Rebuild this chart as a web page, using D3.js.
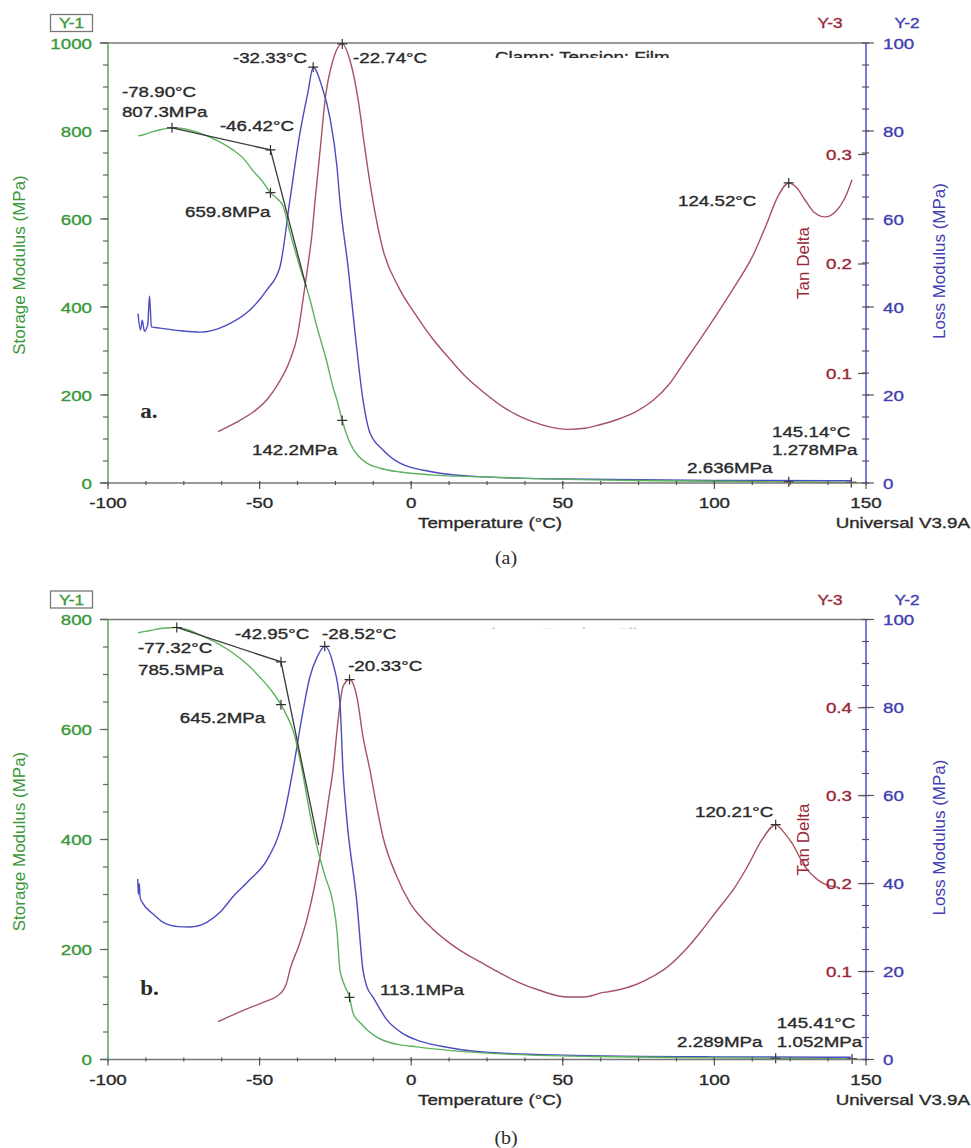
<!DOCTYPE html>
<html>
<head>
<meta charset="utf-8">
<script src="https://cdn.jsdelivr.net/npm/d3@7"></script>
<style>
  body { margin: 0; background: #fff; }
</style>
</head>
<body>
<svg id="chart" width="971" height="1148"></svg>
<script>
// ---------- data, panel (a) : [temperature °C, value]
const storageA = [[-90.1, 789], [-88, 792], [-86, 797], [-82, 804], [-78.9, 807.3], [-75, 805], [-69.7, 795],
  [-64, 778], [-58.8, 757], [-55, 735], [-52.2, 710], [-49, 685], [-46.42, 659.8], [-44, 645], [-42.3, 630],
  [-40, 570], [-36.7, 491], [-33.5, 420], [-31.1, 355], [-28, 280], [-25.8, 218], [-24.5, 189], [-22.74, 142.2],
  [-20.2, 91], [-17.5, 62], [-14.6, 45], [-10, 33], [-3.7, 25], [0, 22], [7.2, 18], [23.7, 14], [40, 10],
  [60, 7], [80, 5], [100, 4], [124.52, 2.636], [145.14, 1.278], [147, 1.2]];
const lossA = [[-90.1, 38.5], [-89.3, 34.8], [-88.7, 37], [-88, 34.5], [-86.9, 36], [-86.3, 42.5], [-85.7, 35.5],
  [-82.9, 35.2], [-76, 34.6], [-69.7, 34.3], [-60.8, 35.9], [-53.2, 39.3], [-47.6, 43.9], [-43.3, 49.1],
  [-40, 64.3], [-36.7, 79.5], [-34, 89], [-32.33, 94.5], [-29.4, 90], [-26.8, 83], [-24.5, 72], [-23.5, 64],
  [-20.8, 49], [-18.5, 34], [-15.9, 18.9], [-13.6, 11.4], [-9.3, 7.5], [-3.7, 4.5], [7.2, 2.5], [23.7, 1.4],
  [50, 0.9], [100, 0.6], [145, 0.5]];
const tanA = [[-63.7, 0.047], [-58, 0.055], [-52, 0.065], [-47.6, 0.076], [-44, 0.09], [-40, 0.112], [-37.5, 0.135],
  [-35.7, 0.167], [-34, 0.2], [-32.7, 0.228], [-31.7, 0.258], [-30, 0.305], [-28.4, 0.35], [-25.8, 0.386],
  [-22.74, 0.401], [-20.2, 0.386], [-17.5, 0.35], [-15.5, 0.31], [-13.6, 0.274], [-9.3, 0.213], [-4, 0.178],
  [1.9, 0.152], [7, 0.132], [12.8, 0.113], [18, 0.097], [24.3, 0.082], [30, 0.07], [35, 0.062], [40, 0.056],
  [46, 0.051], [51.7, 0.049], [57.3, 0.05], [62, 0.053], [68, 0.058], [74, 0.065], [80, 0.076], [85, 0.09],
  [90, 0.11], [95, 0.13], [101, 0.155], [107, 0.181], [112.4, 0.206], [117, 0.235], [121, 0.262],
  [124.52, 0.274], [127, 0.27], [130, 0.258], [133, 0.247], [136.5, 0.243], [140, 0.248], [143, 0.26],
  [145.4, 0.277]];
const tangentA = [[-78.9, 807.3], [-46.42, 757], [-34.6, 445]];
// crosses: [T, value, axis]
const crossesA = [[-78.9, 807.3, "E"], [-46.42, 757, "E"], [-46.42, 659.8, "E"], [-22.74, 142.2, "E"],
  [-32.33, 94.5, "L"], [-22.74, 0.401, "tan"], [124.52, 0.274, "tan"], [124.52, 2.636, "E"], [145.14, 1.278, "E"]];
// notes: [text, T, storage value] (left edge, baseline)
const notesA = [["-78.90°C", -95.4, 877], ["807.3MPa", -95.4, 832], ["-46.42°C", -63.1, 800],
  ["-32.33°C", -58.8, 955], ["-22.74°C", -19.2, 955], ["659.8MPa", -74.6, 605], ["124.52°C", 88, 630],
  ["142.2MPa", -52.5, 64], ["145.14°C", 119, 105], ["1.278MPa", 119, 64], ["2.636MPa", 91, 23]];

// ---------- data, panel (b)
const storageB = [[-90.1, 776], [-86, 780], [-82, 784], [-77.32, 785.5], [-73, 780], [-69.7, 772], [-64, 757],
  [-58.8, 739], [-54, 718], [-49.9, 695], [-46, 670], [-42.95, 645.2], [-41, 625], [-39, 599], [-36, 527],
  [-33.5, 450], [-31.1, 387], [-28.5, 335], [-25.8, 285], [-24.5, 235], [-23.5, 163], [-22, 135],
  [-20.33, 113.1], [-19.2, 84.5], [-16.5, 65], [-14.6, 54], [-12, 43], [-9.3, 35], [-4, 27], [1.9, 23],
  [10, 18], [23.7, 12], [40, 8], [60, 5.5], [80, 4], [100, 3], [120.21, 2.289], [145.41, 1.052], [147, 1.0]];
const lossB = [[-90.2, 41], [-90, 37.5], [-89.7, 40], [-89.4, 36.8], [-88.5, 35.5], [-85, 33], [-81.9, 31.2],
  [-77, 30.2], [-73, 30.1], [-67.3, 31.2], [-63, 33.5], [-58.8, 37], [-53, 41], [-47.6, 45.3], [-42.3, 54.4],
  [-39, 65.8], [-36, 78], [-33.4, 87], [-31, 91.5], [-28.52, 93.9], [-25.8, 90], [-23.5, 81], [-22.5, 65.8],
  [-21.2, 54.4], [-17.9, 35.6], [-15.9, 20.3], [-14.6, 16.5], [-12.6, 14.2], [-8, 9], [-3, 6], [1.9, 4.4],
  [10, 3], [23.7, 1.7], [50, 1], [100, 0.6], [145, 0.5]];
const tanB = [[-63.7, 0.043], [-58, 0.052], [-53.2, 0.059], [-48, 0.066], [-44.3, 0.072], [-42, 0.08],
  [-41, 0.088], [-40, 0.102], [-37, 0.13], [-34.4, 0.159], [-32, 0.195], [-30.1, 0.23], [-28.5, 0.265],
  [-27.4, 0.292], [-25.8, 0.329], [-24.1, 0.386], [-22.5, 0.424], [-20.33, 0.432], [-17.9, 0.412],
  [-15.9, 0.367], [-13.6, 0.329], [-11.5, 0.29], [-9.3, 0.253], [-5, 0.21], [-0.4, 0.178], [6, 0.152],
  [12.8, 0.132], [18, 0.12], [24.3, 0.108], [30, 0.097], [35.2, 0.088], [42, 0.079], [51.7, 0.071], [57, 0.071],
  [60, 0.073], [62.9, 0.076], [65, 0.077], [68.2, 0.079], [74, 0.085], [79.4, 0.094], [83.7, 0.103],
  [90, 0.123], [95.9, 0.147], [101, 0.17], [106.8, 0.196], [111, 0.22], [115.7, 0.25], [120.21, 0.267],
  [123, 0.258], [125.6, 0.246], [129.9, 0.219], [134.2, 0.204], [137.5, 0.198], [141, 0.196]];
const tangentB = [[-77.32, 785.5], [-42.95, 723], [-30.5, 390]];
const crossesB = [[-77.32, 785.5, "E"], [-42.95, 723, "E"], [-42.95, 645.2, "E"], [-20.33, 113.1, "E"],
  [-28.52, 93.9, "L"], [-20.33, 0.432, "tan"], [120.21, 0.267, "tan"], [120.21, 2.289, "E"], [145.41, 1.052, "E"]];
const notesB = [["-77.32°C", -90.1, 739], ["785.5MPa", -90.1, 699], ["645.2MPa", -76.3, 612],
  ["-42.95°C", -58.1, 765], ["-28.52°C", -29.4, 765], ["-20.33°C", -20.8, 706], ["120.21°C", 93.6, 441],
  ["113.1MPa", -10.3, 117], ["2.289MPa", 87.7, 23], ["145.41°C", 120.6, 57], ["1.052MPa", 120.6, 23]];

// ---------- shared axis ticks
const xTicks = [-100, -50, 0, 50, 100, 150];
const xMinor = d3.range(-100, 150.1, 12.5);
const lossTicks = [0, 20, 40, 60, 80, 100];
const lossMinor = d3.range(0, 100.1, 5);
const tanTicksA = [0.1, 0.2, 0.3];
const tanTicksB = [0.1, 0.2, 0.3, 0.4];

const FONT = "'Liberation Sans', Arial, sans-serif";
const SERIF = "'Liberation Serif', 'Times New Roman', serif";
const SX = 1.25; // the original figure is stretched horizontally
const GREEN = "#3a983a", GREEN_LINE = "#5db35d", BLUE = "#4040b0", RED = "#992838", RED_LINE = "#a65263";

const svg = d3.select("#chart");
svg.append("rect").attr("width", 971).attr("height", 1148).attr("fill", "#fff");

const x = d3.scaleLinear().domain([-100, 150]).range([108, 866]);

function label(g, s, px, py, o = {}) {
  const c = o.color || "#2a2a2a";
  return g.append("text")
    .attr("transform", `translate(${px},${py}) scale(${o.sx || SX},1)`)
    .attr("text-anchor", o.anchor || "start")
    .attr("font-family", o.font || FONT)
    .attr("font-size", o.size || 15)
    .attr("font-weight", o.weight || "normal")
    .attr("fill", c)
    .attr("stroke", o.font ? "none" : c)
    .attr("stroke-width", 0.35)
    .text(s);
}

function vlabel(g, s, px, py, color) {
  g.append("text")
    .attr("transform", `translate(${px},${py}) rotate(-90)`)
    .attr("text-anchor", "middle")
    .attr("font-family", FONT)
    .attr("font-size", 17)
    .attr("fill", color)
    .text(s);
}

function drawPanel(p) {
  const g = svg.append("g");
  const yE = d3.scaleLinear().domain([0, p.eMax]).range([p.bottom, p.top]);
  const yL = d3.scaleLinear().domain([0, 100]).range([p.bottom, p.top]);
  const yT = d3.scaleLinear().domain([0, p.tanMax]).range([p.bottom, p.top]);
  const yOf = { E: yE, L: yL, tan: yT };

  // top frame line
  g.append("line").attr("x1", 100).attr("x2", x(150)).attr("y1", p.top).attr("y2", p.top)
    .attr("stroke", "#7a7a7a").attr("stroke-width", 1.5);

  // clamp text, cut off at its lower part
  const clipId = "clip-" + p.name;
  svg.append("clipPath").attr("id", clipId).append("rect")
    .attr("x", 0).attr("y", p.top + 2).attr("width", 971).attr("height", p.clampClip);
  const clampG = g.append("g").attr("clip-path", `url(#${clipId})`);
  label(clampG, "Clamp:  Tension: Film", p.clampX, p.top + 19, { color: p.clampColor });

  // curves
  const lineOf = y => d3.line().x(d => x(d[0])).y(d => y(d[1])).curve(d3.curveMonotoneX);
  g.append("path").datum(p.tan).attr("d", lineOf(yT))
    .attr("fill", "none").attr("stroke", RED_LINE).attr("stroke-width", 1.4);
  g.append("path").datum(p.loss).attr("d", lineOf(yL))
    .attr("fill", "none").attr("stroke", "#4b4bc2").attr("stroke-width", 1.4);
  g.append("path").datum(p.storage).attr("d", lineOf(yE))
    .attr("fill", "none").attr("stroke", GREEN_LINE).attr("stroke-width", 1.4);
  g.append("path").datum(p.tangent).attr("d", d3.line().x(d => x(d[0])).y(d => yE(d[1])))
    .attr("fill", "none").attr("stroke", "#3a3a3a").attr("stroke-width", 1.3);

  // crosses
  g.selectAll("path.cross").data(p.crosses).join("path").attr("class", "cross")
    .attr("d", d => `M${x(d[0]) - 5},${yOf[d[2]](d[1])}h10M${x(d[0])},${yOf[d[2]](d[1]) - 5}v10`)
    .attr("stroke", "#333").attr("stroke-width", 1.2);

  // bottom axis
  const xAxis = g.append("g").attr("transform", `translate(0,${p.bottom})`);
  xAxis.append("line").attr("x1", 100).attr("x2", x(150)).attr("stroke", "#777").attr("stroke-width", 1.5);
  xAxis.selectAll("line.minor").data(xMinor).join("line").attr("class", "minor")
    .attr("x1", d => x(d)).attr("x2", d => x(d)).attr("y1", -2).attr("y2", 2)
    .attr("stroke", "#555").attr("stroke-width", 1.2);
  xAxis.selectAll("line.major").data(xTicks).join("line").attr("class", "major")
    .attr("x1", d => x(d)).attr("x2", d => x(d)).attr("y1", -2).attr("y2", 6)
    .attr("stroke", "#555").attr("stroke-width", 1.2);
  xTicks.forEach(t => label(xAxis, String(t), x(t), 25, { anchor: "middle" }));
  label(g, "Temperature (°C)", 490, p.bottom + 45, { anchor: "middle" });
  label(g, "Universal V3.9A", 970, p.bottom + 45, { anchor: "end" });

  // left axis (storage)
  const left = g.append("g").attr("transform", `translate(${x(-100)},0)`);
  left.append("line").attr("y1", p.top).attr("y2", p.bottom).attr("stroke", GREEN_LINE).attr("stroke-width", 1.6);
  left.selectAll("line.minor").data(p.eMinor).join("line").attr("class", "minor")
    .attr("x1", -5).attr("x2", 0).attr("y1", d => yE(d)).attr("y2", d => yE(d))
    .attr("stroke", "#666").attr("stroke-width", 1.2);
  left.selectAll("line.major").data(p.eMajor).join("line").attr("class", "major")
    .attr("x1", -8).attr("x2", 0).attr("y1", d => yE(d)).attr("y2", d => yE(d))
    .attr("stroke", "#666").attr("stroke-width", 1.2);
  p.eMajor.forEach(v => label(left, String(v), -16, yE(v) + 5.5, { anchor: "end", color: GREEN }));
  vlabel(g, "Storage Modulus (MPa)", 25, (p.top + p.bottom) / 2 + 2, GREEN);

  // right axes (loss + tan delta)
  const right = g.append("g").attr("transform", `translate(${x(150)},0)`);
  right.append("line").attr("y1", p.top).attr("y2", p.bottom).attr("stroke", "#5a5ad0").attr("stroke-width", 1.6);
  right.selectAll("line.minor").data(lossMinor).join("line").attr("class", "minor")
    .attr("x1", -4).attr("x2", 3).attr("y1", d => yL(d)).attr("y2", d => yL(d))
    .attr("stroke", "#555").attr("stroke-width", 1.2);
  right.selectAll("line.major").data(lossTicks).join("line").attr("class", "major")
    .attr("x1", 0).attr("x2", 8).attr("y1", d => yL(d)).attr("y2", d => yL(d))
    .attr("stroke", "#555").attr("stroke-width", 1.2);
  right.selectAll("line.tan").data(p.tanTicks).join("line").attr("class", "tan")
    .attr("x1", -8).attr("x2", 0).attr("y1", d => yT(d)).attr("y2", d => yT(d))
    .attr("stroke", "#555").attr("stroke-width", 1.2);
  lossTicks.forEach(v => label(right, String(v), 17, yL(v) + 5.5, { color: BLUE }));
  p.tanTicks.forEach(v => label(right, d3.format(".1f")(v), -14, yT(v) + 5.5, { anchor: "end", color: RED }));
  vlabel(g, "Tan Delta", 809, (p.top + p.bottom) / 2, RED);
  vlabel(g, "Loss Modulus (MPa)", 945, (p.top + p.bottom) / 2 - 2, BLUE);

  // axis captions
  g.append("rect").attr("x", 50.5).attr("y", p.top - 28.5).attr("width", 42).attr("height", 17)
    .attr("fill", "none").attr("stroke", "#777").attr("stroke-width", 1.3);
  label(g, "Y-1", 71.5, p.top - 15, { anchor: "middle", color: GREEN, sx: 1.15 });
  label(g, "Y-3", 830, p.top - 15, { anchor: "middle", color: RED, sx: 1.15 });
  label(g, "Y-2", 907, p.top - 15, { anchor: "middle", color: BLUE, sx: 1.15 });

  // annotations
  p.notes.forEach(n => label(g, n[0], x(n[1]), yE(n[2])));

  // panel tag and caption
  label(g, p.tag, x(p.tagAt[0]), yE(p.tagAt[1]), { font: SERIF, size: 21, weight: "bold", sx: 1.1 });
  label(g, p.caption, 506, p.captionY, { font: SERIF, size: 19, anchor: "middle", sx: 1.05 });
}

const panels = [
  { name: "a", top: 43, bottom: 483, eMax: 1000, eMajor: d3.range(0, 1001, 200), eMinor: d3.range(0, 1001, 50),
    tanMax: 0.4018, tanTicks: tanTicksA, storage: storageA, loss: lossA, tan: tanA, tangent: tangentA,
    crosses: crossesA, notes: notesA, tag: "a.", tagAt: [-89.4, 148], caption: "(a)", captionY: 564,
    clampX: 495, clampClip: 13, clampColor: "#2a2a2a" },
  { name: "b", top: 619.5, bottom: 1059.5, eMax: 800, eMajor: d3.range(0, 801, 200), eMinor: d3.range(0, 801, 50),
    tanMax: 0.5003, tanTicks: tanTicksB, storage: storageB, loss: lossB, tan: tanB, tangent: tangentB,
    crosses: crossesB, notes: notesB, tag: "b.", tagAt: [-89.4, 117], caption: "(b)", captionY: 1144,
    clampX: 478, clampClip: 7, clampColor: "#8a8a8a" }
];

panels.forEach(drawPanel);
</script>
</body>
</html>
